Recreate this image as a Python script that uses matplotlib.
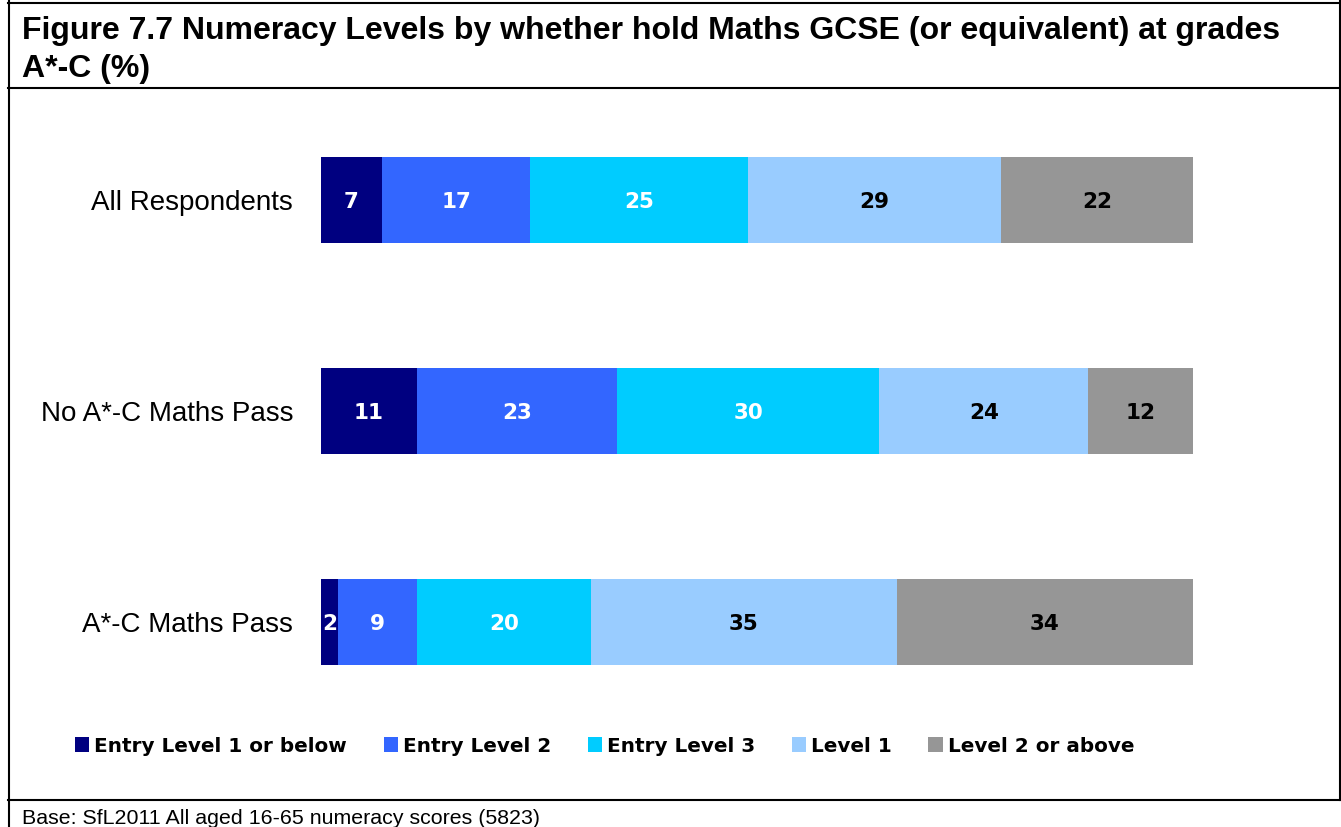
import matplotlib
matplotlib.use("Agg")
import matplotlib.pyplot as plt
from matplotlib.patches import Patch
from matplotlib.lines import Line2D
import numpy as np

plt.rcParams['font.family'] = ['Liberation Sans', 'DejaVu Sans']

groups = ["All Respondents", "No A*-C Maths Pass", "A*-C Maths Pass"]
levels = ["Entry Level 1 or below", "Entry Level 2", "Entry Level 3",
          "Level 1", "Level 2 or above"]
entry1 = [7, 11, 2]
entry2 = [17, 23, 9]
entry3 = [25, 30, 20]
level1 = [29, 24, 35]
level2 = [22, 12, 34]
colours = ["#000080", "#3366FF", "#00CCFF", "#99CCFF", "#969696"]
text_colours = ["white", "white", "white", "black", "black"]

W, H = 1341, 827
fig = plt.figure(figsize=(W / 100, H / 100), dpi=100)

ax = fig.add_axes([321 / W, 1 - 727.5 / H, 872 / W, 633 / H])
ypos = np.arange(len(groups))[::-1]
left = np.zeros(len(groups))
for vals, col, tcol in zip([entry1, entry2, entry3, level1, level2],
                           colours, text_colours):
    bars = ax.barh(ypos, vals, left=left, height=0.403, color=col,
                   edgecolor="none")
    lbls = ax.bar_label(bars, labels=[str(v) for v in vals],
                        label_type="center", color=tcol, fontsize=15.5,
                        fontweight="bold", family="DejaVu Sans")
    for t in lbls:
        t.set_va("center_baseline")
    left += np.array(vals)

ax.set_xlim(0, 100)
ax.set_ylim(-0.5, 2.5)
ax.set_yticks(ypos, groups, fontsize=20)
ax.tick_params(axis="y", length=0, pad=20)
ax.set_xticks([])
for s in ax.spines.values():
    s.set_visible(False)

handles = [Patch(facecolor=c, edgecolor="none") for c in colours]
fig.legend(handles, levels, loc="center left",
           bbox_to_anchor=(75 / W, 1 - 746 / H), ncol=5, frameon=False,
           prop={"weight": "bold", "size": 14.4, "family": "DejaVu Sans"},
           handlelength=0.72, handleheight=0.72, handletextpad=0.25,
           columnspacing=1.82, borderaxespad=0, borderpad=0)

# title and base text
fig.text(22 / W, 1 - 31 / H, "Figure 7.7 Numeracy Levels by whether hold Maths GCSE (or equivalent) at grades",
         fontsize=23, fontweight="bold", va="center", ha="left")
fig.text(22 / W, 1 - 69 / H, "A*-C (%)",
         fontsize=23, fontweight="bold", va="center", ha="left")
fig.text(22 / W, 1 - 819 / H, "Base: SfL2011 All aged 16-65 numeracy scores (5823)",
         fontsize=15.4, va="center", ha="left")

# frame lines
def hline(y, x0=8, x1=W):
    fig.add_artist(Line2D([x0 / W, x1 / W], [1 - y / H, 1 - y / H],
                          color="black", lw=1.5))

def vline(x, y0=0, y1=H):
    fig.add_artist(Line2D([x / W, x / W], [1 - y0 / H, 1 - y1 / H],
                          color="black", lw=1.5))

hline(3)
hline(88)
hline(800)
vline(8.5)
vline(1339.5, 0, 800)

fig.savefig("out.png", dpi=100)
